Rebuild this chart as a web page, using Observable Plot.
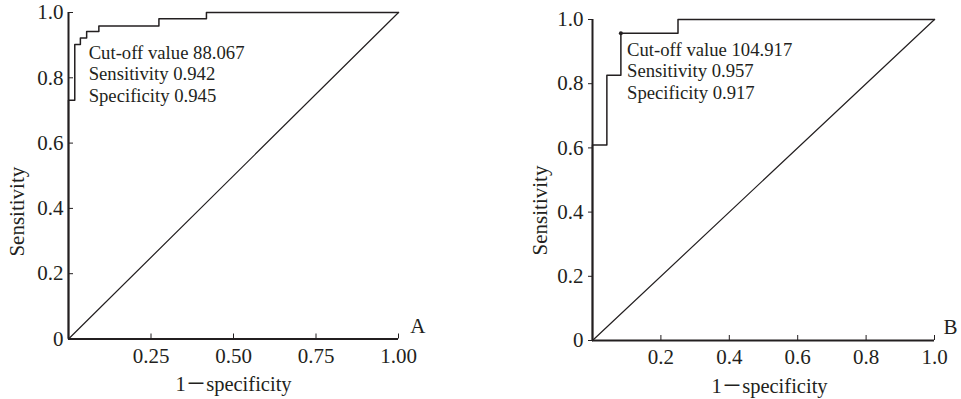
<!DOCTYPE html>
<html><head><meta charset="utf-8">
<script src="https://cdn.jsdelivr.net/npm/d3@7"></script>
<script src="https://cdn.jsdelivr.net/npm/@observablehq/plot@0.6"></script>
<style>
body{margin:0;background:#fff;}
#wrap{position:relative;width:961px;height:399px;overflow:hidden;}
#a,#b{position:absolute;top:0;}
#a{left:0}
#b{left:480px}
</style></head><body>
<div id="wrap"><div id="a"></div><div id="b"></div></div>
<script>
// ROC curve A
const fprA = [0, 0, 0.019, 0.036, 0.055, 0.092, 0.274, 0.418, 1];
const tprA = [0, 0.731, 0.902, 0.922, 0.942, 0.959, 0.981, 1, 1];
// ROC curve B
const fprB = [0, 0, 0.042, 0.083, 0.25, 1];
const tprB = [0, 0.609, 0.826, 0.957, 1, 1];
// cut-off point B
const cutFprB = [0.083];
const cutTprB = [0.957];
// reference diagonal
const diagX = [0, 1];
const diagY = [0, 1];
// annotations
const annotA = ["Cut-off value 88.067", "Sensitivity 0.942", "Specificity 0.945"];
const annotB = ["Cut-off value 104.917", "Sensitivity 0.957", "Specificity 0.917"];
const annotPosA = [0.061, 0.814];
const annotPosB = [0.101, 0.841];
// ticks
const xTicksA = [0.25, 0.5, 0.75, 1.0];
const xLabelsA = ["0.25", "0.50", "0.75", "1.00"];
const xTicksB = [0.2, 0.4, 0.6, 0.8, 1.0];
const xLabelsB = ["0.2", "0.4", "0.6", "0.8", "1.0"];
const yTicks = [0, 0.2, 0.4, 0.6, 0.8, 1.0];
const yLabels = ["0", "0.2", "0.4", "0.6", "0.8", "1.0"];
const xTitle = "1－specificity";
const yTitle = "Sensitivity";

const INK = "#231f20";
const FONT = "'Liberation Serif','Times New Roman','Noto Sans CJK SC',serif";

function panel(o) {
  const roc = o.fpr.map((f, i) => ({f, t: o.tpr[i]}));
  const diag = diagX.map((d, i) => ({f: d, t: diagY[i]}));
  const marks = [
    Plot.line(diag, {x: "f", y: "t", stroke: INK, strokeWidth: 1.2}),
    Plot.line(roc, {x: "f", y: "t", curve: "step-after", stroke: INK, strokeWidth: 1.5}),
    Plot.ruleX([0], {stroke: INK, strokeWidth: 2}),
    Plot.ruleY([0], {stroke: INK, strokeWidth: 2}),
    Plot.axisX(o.xTicks, {
      tickSize: -5, tickPadding: 14, stroke: INK, fill: INK,
      tickFormat: d => o.xLabels[o.xTicks.indexOf(d)], label: null, fontSize: 21
    }),
    Plot.axisY(yTicks, {
      tickSize: o.ySize, tickPadding: o.yPad, stroke: INK, fill: INK,
      tickFormat: d => yLabels[yTicks.indexOf(d)], label: null, fontSize: 21
    }),
    Plot.text([yTitle], {frameAnchor: "left", y: () => o.ytY, rotate: -90, textAnchor: "middle", dx: o.ytDx, fontSize: 21, fill: INK}),
    Plot.text([xTitle], {frameAnchor: "bottom", dx: o.xtDx, dy: 52, fontSize: 20.5, fill: INK}),
    Plot.text([o.letter], {frameAnchor: "bottom-right", dx: o.lDx, dy: o.lDy, fontSize: 21, fill: INK}),
    Plot.text([o.annot.join("\n")], {
      x: () => o.annotPos[0], y: () => o.annotPos[1],
      textAnchor: "start", lineAnchor: "middle", lineHeight: 1.15, fontSize: 18.7, fill: INK
    })
  ];
  if (o.cutF) marks.push(Plot.dot(o.cutF.map((f, i) => ({f, t: o.cutT[i]})), {x: "f", y: "t", r: 2, fill: INK, stroke: null}));
  return Plot.plot({
    width: o.width, height: 399,
    marginLeft: o.ml, marginRight: o.mr, marginTop: o.mt, marginBottom: o.mb,
    x: {domain: [0, 1], axis: null},
    y: {domain: [0, 1], axis: null},
    style: {fontFamily: FONT, fontSize: "21px", color: INK, background: "white", overflow: "visible"},
    marks
  });
}

document.getElementById("a").append(panel({
  fpr: fprA, tpr: tprA, annot: annotA, annotPos: annotPosA,
  xTicks: xTicksA, xLabels: xLabelsA, letter: "A",
  width: 480, ml: 68, mr: 82, mt: 12, mb: 60.5,
  ySize: -5, yPad: 10, ytDx: -51, ytY: 0.39, xtDx: 0, lDx: 27, lDy: -6
}));
document.getElementById("b").append(panel({
  fpr: fprB, tpr: tprB, annot: annotB, annotPos: annotPosB, cutF: cutFprB, cutT: cutTprB,
  xTicks: xTicksB, xLabels: xLabelsB, letter: "B",
  width: 481, ml: 112, mr: 27, mt: 19, mb: 59,
  ySize: 4, yPad: 5, ytDx: -52, ytY: 0.405, xtDx: 6, lDx: 23, lDy: -7
}));
</script>
</body></html>
